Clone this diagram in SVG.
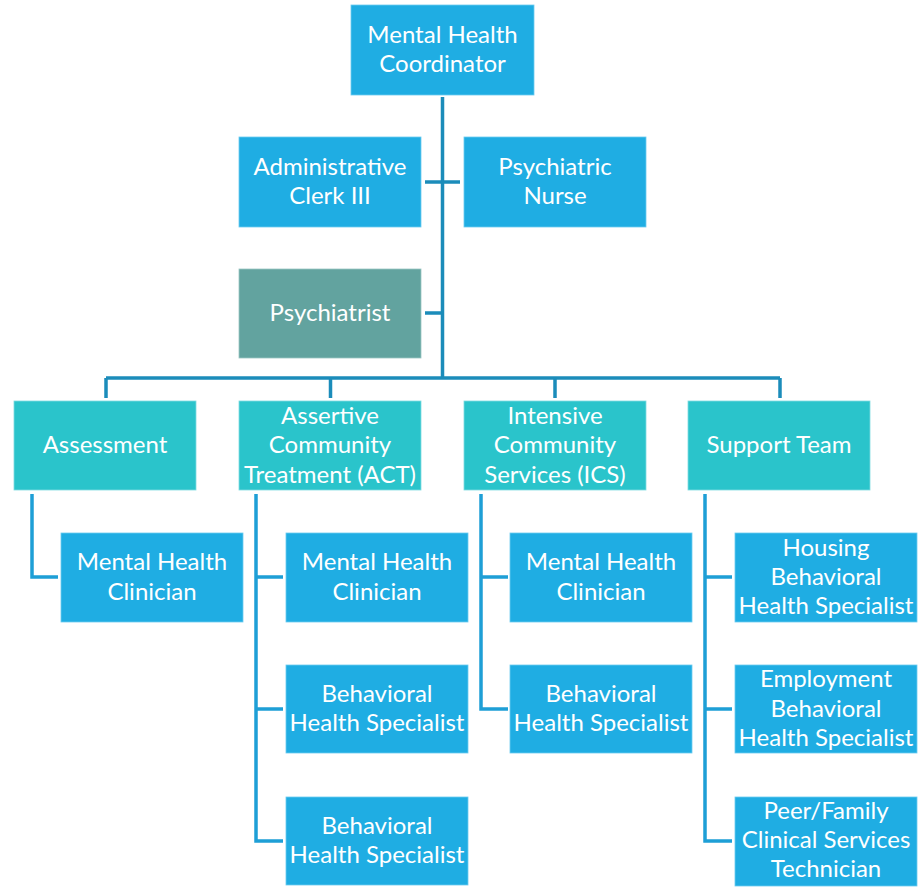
<svg xmlns="http://www.w3.org/2000/svg" width="919" height="888" viewBox="0 0 919 888">
<style>
.b{fill:#1FADE3;stroke:#6CCBEF;stroke-width:0.8}
.t{fill:#2AC4CB;stroke:#7FDCE0;stroke-width:0.8}
.p{fill:#62A39F;stroke:#9CC6C3;stroke-width:0.8}
text{font-family:Lato,"Open Sans","Liberation Sans",sans-serif;font-size:24px;fill:#fff;text-anchor:middle}
.c{fill:none;stroke:#1B8CBA;stroke-width:3.5}
.d{fill:none;stroke:#1E9FD6;stroke-width:3.5}
</style>
<rect width="919" height="888" fill="#fff"/>
<g id="connectors">
<path class="c" d="M442.5 97V378M425 182H460M425 313H442.5M106 378H780M106 378V398M330.5 378V398M555 378V398M780 378V398"/>
<path class="d" d="M32 494V577H58M256 494V841H283M256 709H283M256 577H283M481 494V709H508M481 577H508M705 494V841H732M705 577H732M705 709H732"/>
</g>
<g id="n1"><rect class="b" x="351" y="5" width="183" height="90"/><text x="442.5" y="43">Mental Health</text><text x="442.5" y="72">Coordinator</text></g>
<g id="n2"><rect class="b" x="239" y="137" width="182" height="90"/><text x="330" y="175">Administrative</text><text x="330" y="204">Clerk III</text></g>
<g id="n3"><rect class="b" x="464" y="137" width="182" height="90"/><text x="555" y="175">Psychiatric</text><text x="555" y="204">Nurse</text></g>
<g id="n4"><rect class="p" x="239" y="269" width="182" height="89"/><text x="330" y="321">Psychiatrist</text></g>
<g id="n5"><rect class="t" x="14" y="401" width="182" height="89"/><text x="105" y="453">Assessment</text></g>
<g id="n6"><rect class="t" x="239" y="401" width="182" height="89"/><text x="330" y="424">Assertive</text><text x="330" y="453">Community</text><text x="330" y="483">Treatment (ACT)</text></g>
<g id="n7"><rect class="t" x="464" y="401" width="182" height="89"/><text x="555" y="424">Intensive</text><text x="555" y="453">Community</text><text x="555" y="483">Services (ICS)</text></g>
<g id="n8"><rect class="t" x="688" y="401" width="182" height="89"/><text x="779" y="453">Support Team</text></g>
<g id="n9"><rect class="b" x="61" y="533" width="182" height="89"/><text x="152" y="570">Mental Health</text><text x="152" y="600">Clinician</text></g>
<g id="n10"><rect class="b" x="286" y="533" width="182" height="89"/><text x="377" y="570">Mental Health</text><text x="377" y="600">Clinician</text></g>
<g id="n11"><rect class="b" x="286" y="665" width="182" height="88"/><text x="377" y="702">Behavioral</text><text x="377" y="731">Health Specialist</text></g>
<g id="n12"><rect class="b" x="286" y="797" width="182" height="88"/><text x="377" y="834">Behavioral</text><text x="377" y="863">Health Specialist</text></g>
<g id="n13"><rect class="b" x="510" y="533" width="182" height="89"/><text x="601" y="570">Mental Health</text><text x="601" y="600">Clinician</text></g>
<g id="n14"><rect class="b" x="510" y="665" width="182" height="88"/><text x="601" y="702">Behavioral</text><text x="601" y="731">Health Specialist</text></g>
<g id="n15"><rect class="b" x="735" y="533" width="182" height="89"/><text x="826" y="556">Housing</text><text x="826" y="585">Behavioral</text><text x="826" y="614">Health Specialist</text></g>
<g id="n16"><rect class="b" x="735" y="665" width="182" height="88"/><text x="826" y="687">Employment</text><text x="826" y="717">Behavioral</text><text x="826" y="746">Health Specialist</text></g>
<g id="n17"><rect class="b" x="735" y="797" width="182" height="89"/><text x="826" y="819">Peer/Family</text><text x="826" y="848">Clinical Services</text><text x="826" y="877">Technician</text></g>
</svg>
